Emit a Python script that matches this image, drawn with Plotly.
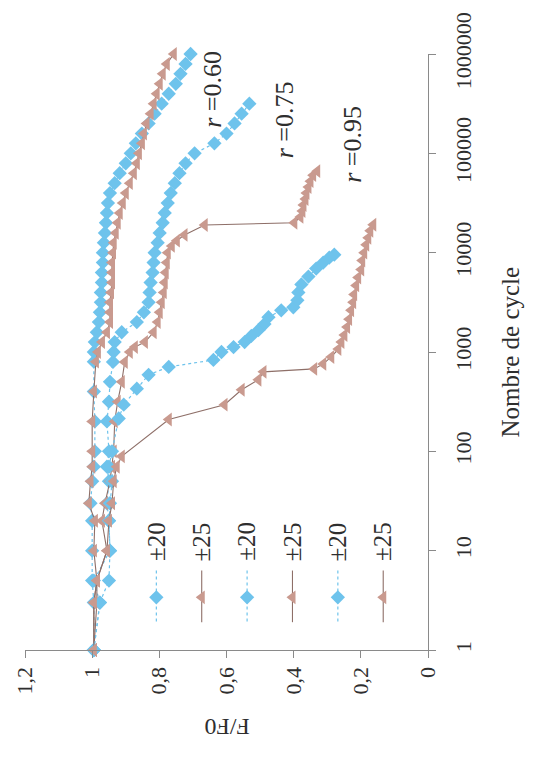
import plotly.graph_objects as go

# ---------------- data ----------------
# r = 0.60
b60_n = [1, 3, 5, 10, 20, 30, 50, 70, 100, 200, 400, 800,
         1000, 1260, 1580, 2000, 2510, 3160, 3980, 5010, 6310, 7940,
         10000, 12600, 15800, 20000, 25100, 31600, 39800, 50100, 63100, 79400,
         100000, 126000, 158000, 200000, 251000, 316000, 398000, 501000, 631000, 794000, 1000000]
b60_f = [0.995, 0.995, 1.0, 1.0, 1.0, 1.005, 1.0, 0.995, 0.992, 0.992, 0.995, 0.995,
         0.995, 0.992, 0.986, 0.980, 0.977, 0.974, 0.974, 0.971, 0.971, 0.968,
         0.968, 0.965, 0.962, 0.959, 0.956, 0.953, 0.947, 0.933, 0.918, 0.900,
         0.885, 0.870, 0.852, 0.832, 0.814, 0.793, 0.772, 0.751, 0.737, 0.722, 0.707]
t60_n = b60_n
t60_f = [0.995, 0.995, 0.986, 0.995, 0.992, 1.01, 1.005, 1.0, 1.0, 1.0, 0.995, 0.989,
         0.983, 0.971, 0.956, 0.947, 0.947, 0.947, 0.944, 0.941, 0.941, 0.941,
         0.938, 0.936, 0.930, 0.924, 0.918, 0.909, 0.900, 0.888, 0.876, 0.867,
         0.861, 0.852, 0.846, 0.838, 0.826, 0.817, 0.808, 0.799, 0.790, 0.778, 0.757]

# r = 0.75
b75_n = [1, 3, 5, 10, 20, 30, 50, 70, 100, 200, 316, 501, 794,
         1000, 1260, 1580, 2000, 2510, 3160, 3980, 5010, 6310, 7940,
         10000, 12600, 15800, 20000, 25100, 31600, 39800, 50100, 63100, 79400,
         100000, 126000, 158000, 200000, 251000, 316000]
b75_f = [0.995, 0.977, 0.995, 0.947, 0.950, 0.956, 0.950, 0.956, 0.950, 0.956, 0.950, 0.947, 0.938,
         0.936, 0.933, 0.912, 0.867, 0.846, 0.832, 0.829, 0.826, 0.820, 0.817,
         0.814, 0.805, 0.799, 0.790, 0.784, 0.775, 0.766, 0.754, 0.740, 0.722,
         0.695, 0.636, 0.600, 0.576, 0.555, 0.532]
t75_n = [1, 3, 5, 10, 20, 30, 50, 70, 100, 200, 316, 501, 794,
         1000, 1120, 1260, 1580, 2000, 2510, 3160, 3980, 5010, 6310, 7940, 10000,
         11700, 13200, 15100, 19000,
         20000, 22900, 26300, 30200, 34700, 39800, 45700, 52500, 60300, 66100]
t75_f = [0.995, 0.986, 0.986, 0.956, 0.971, 0.962, 0.947, 0.941, 0.936, 0.933, 0.924, 0.912, 0.903,
         0.888, 0.873, 0.843, 0.817, 0.805, 0.799, 0.793, 0.787, 0.784, 0.781, 0.778, 0.775,
         0.763, 0.748, 0.725, 0.665,
         0.398, 0.380, 0.374, 0.371, 0.365, 0.362, 0.356, 0.350, 0.342, 0.330]

# r = 0.95
b95_n = [1, 3, 5, 10, 20, 30, 50, 70, 100, 214, 295, 427, 589, 708, 832,
         1000, 1120, 1260, 1450, 1660, 1910, 2240, 2630, 2820, 3310, 3980, 4790,
         5750, 6920, 7940, 8910, 9550]
b95_f = [0.995, 0.977, 0.950, 0.947, 0.950, 0.947, 0.941, 0.950, 0.941, 0.921, 0.906, 0.867, 0.832, 0.772, 0.639,
         0.615, 0.579, 0.546, 0.526, 0.505, 0.487, 0.475, 0.437, 0.401, 0.389, 0.386, 0.377,
         0.356, 0.333, 0.312, 0.294, 0.279]
t95_n = [1, 3, 5, 10, 20, 30, 50, 70, 89, 209, 295, 417, 525, 631,
         676, 759, 891, 1070, 1260, 1480, 1780, 2140, 2630, 3160, 3800, 4680, 5620,
         6760, 8320, 10000, 12000, 14100, 16600, 19100]
t95_f = [0.995, 0.995, 0.986, 0.956, 0.950, 0.941, 0.936, 0.927, 0.912, 0.772, 0.606, 0.555, 0.505, 0.490,
         0.339, 0.312, 0.288, 0.267, 0.258, 0.249, 0.241, 0.235, 0.229, 0.223, 0.220, 0.214, 0.208,
         0.199, 0.196, 0.190, 0.184, 0.178, 0.172, 0.163]

series_labels = ["±20", "±25", "±20", "±25", "±20", "±25"]
r_labels = ["0.60", "0.75", "0.95"]

f_tickvals = [1.2, 1.0, 0.8, 0.6, 0.4, 0.2, 0.0]
f_ticktext = ["1,2", "1", "0,8", "0,6", "0,4", "0,2", "0"]
n_tickvals = [1, 10, 100, 1000, 10000, 100000, 1000000]
n_ticktext = ["1", "10", "100", "1000", "10000", "100000", "1000000"]

# ---------------- styling ----------------
BLUE = "#6ec3ec"
BROWN = "#c99a8f"
BROWN_LINE = "#8e6f68"
FONT = "Liberation Serif"
TXT = "#2e2e2e"
AX = "#8a8a8a"

styles = {
    "blue": dict(line=dict(color=BLUE, width=1.2, dash="dot"),
                 marker=dict(symbol="diamond", size=11, color=BLUE)),
    "brown": dict(line=dict(color=BROWN_LINE, width=1.1),
                  marker=dict(symbol="triangle-left", size=12, color=BROWN)),
}

data = [(b60_n, b60_f, "blue"), (t60_n, t60_f, "brown"),
        (b75_n, b75_f, "blue"), (t75_n, t75_f, "brown"),
        (b95_n, b95_f, "blue"), (t95_n, t95_f, "brown")]

fig = go.Figure()
for (n, f, kind), lab in zip(data, series_labels):
    fig.add_trace(go.Scatter(x=f, y=n, mode="lines+markers", name=lab,
                             showlegend=False, cliponaxis=False, **styles[kind]))

# ---------- hand-made rotated legend (pixel-like overlay axes) ----------
LEG_X0, LEG_DX = 155, 45.6
LEG_Y_TOP, LEG_Y_MARK, LEG_Y_BOT, LEG_Y_TXT = 570, 597, 622, 541
for i, (lab, (_, _, kind)) in enumerate(zip(series_labels, data)):
    xp = LEG_X0 + i * LEG_DX
    st = styles[kind]
    fig.add_trace(go.Scatter(x=[xp, xp], y=[LEG_Y_TOP, LEG_Y_BOT], mode="lines",
                             line=st["line"], xaxis="x2", yaxis="y2",
                             showlegend=False, hoverinfo="skip"))
    fig.add_trace(go.Scatter(x=[xp], y=[LEG_Y_MARK], mode="markers",
                             marker=st["marker"], xaxis="x2", yaxis="y2",
                             showlegend=False, hoverinfo="skip"))
    fig.add_annotation(x=xp, y=LEG_Y_TXT, xref="x2", yref="y2", text=lab,
                       textangle=-90, showarrow=False,
                       font=dict(family=FONT, size=25, color=TXT))

# r labels
r_pos = [(212, 86), (284, 116), (352, 141)]
for lab, (xp, yp) in zip(r_labels, r_pos):
    fig.add_annotation(x=xp, y=yp, xref="x2", yref="y2",
                       text="<i>r</i> =" + lab, textangle=-90, showarrow=False,
                       font=dict(family=FONT, size=26, color=TXT))

# axis titles (paper coordinates: plot area spans x 23..428 px, y 50..650 px)
fig.add_annotation(x=1.2025, y=0.5, xref="paper", yref="paper", text="Nombre de cycle",
                   textangle=-90, showarrow=False, xanchor="center", yanchor="middle",
                   font=dict(family=FONT, size=25, color=TXT))
fig.add_annotation(x=0.501, y=-0.128, xref="paper", yref="paper", text="F/F0",
                   textangle=180, showarrow=False, xanchor="center", yanchor="middle",
                   font=dict(family=FONT, size=24, color=TXT))

fig.update_layout(
    width=540, height=765,
    margin=dict(l=23, r=112, t=50, b=115),
    paper_bgcolor="white", plot_bgcolor="white",
    showlegend=False,
    xaxis=dict(range=[1.2, 0], tickvals=f_tickvals, ticktext=f_ticktext,
               tickangle=-90, ticks="outside", ticklen=7, tickcolor=AX,
               showline=True, linecolor=AX, linewidth=1.2,
               showgrid=False, zeroline=False,
               tickfont=dict(family=FONT, size=22, color=TXT)),
    yaxis=dict(type="log", range=[0, 6], side="right",
               tickvals=n_tickvals, ticktext=n_ticktext,
               tickangle=-90, ticks="outside", ticklen=7, tickcolor=AX,
               showline=True, linecolor=AX, linewidth=1.2,
               showgrid=False, zeroline=False, ticklabelstandoff=8,
               tickfont=dict(family=FONT, size=22, color=TXT)),
    xaxis2=dict(range=[23, 428], overlaying="x", anchor="y2", visible=False),
    yaxis2=dict(range=[650, 50], overlaying="y", anchor="x2", visible=False),
)

fig.write_html("out.html")
